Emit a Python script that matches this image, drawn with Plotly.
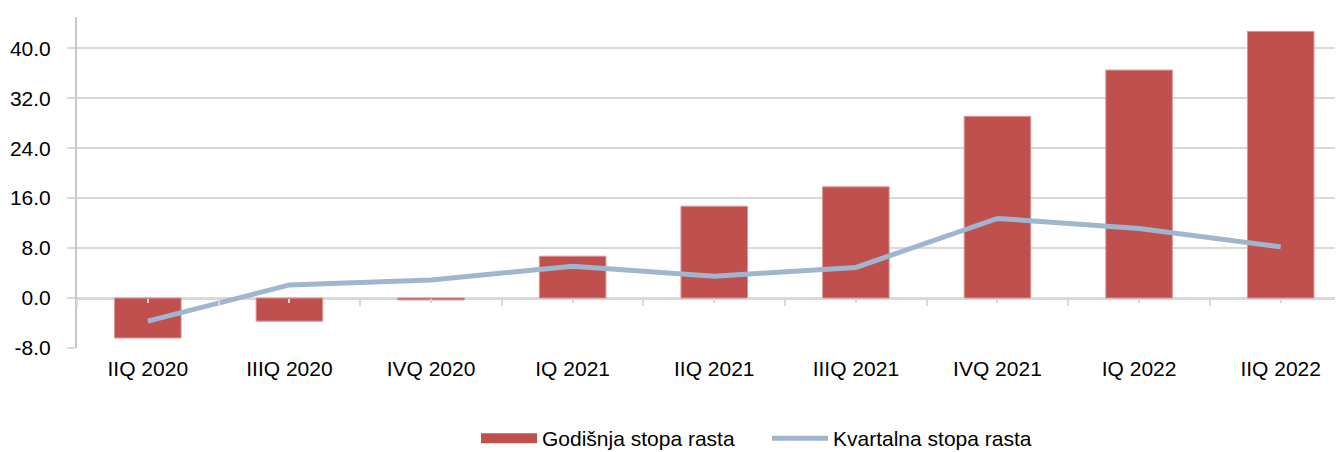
import plotly.graph_objects as go

categories = ["IIQ 2020", "IIIQ 2020", "IVQ 2020", "IQ 2021", "IIQ 2021",
              "IIIQ 2021", "IVQ 2021", "IQ 2022", "IIQ 2022"]
godisnja = [-6.4, -3.7, -0.3, 6.7, 14.7, 17.8, 29.1, 36.5, 42.7]
kvartalna = [-3.7, 2.1, 2.9, 5.1, 3.5, 4.9, 12.75, 11.15, 8.2]
y_ticks = [-8, 0, 8, 16, 24, 32, 40]

xpos = list(range(len(categories)))
boundary_ticks = [i - 0.5 for i in range(len(categories) + 1)]
y_min, y_max = -8, 45
x_range = [-0.5, len(categories) - 1 + 0.44]

FONT = "Liberation Sans, Arial, sans-serif"
GRID = "#D9D9D9"
RED = "#C0504D"
BLUE = "#9FB6CE"
W, H = 1343, 452

fig = go.Figure()
fig.add_trace(go.Bar(
    x=xpos, y=godisnja, name="Godišnja stopa rasta", showlegend=False,
    marker=dict(color=RED, line=dict(color="#D99694", width=1)),
    width=0.47,
))
fig.add_trace(go.Scatter(
    x=xpos, y=kvartalna, name="Kvartalna stopa rasta", mode="lines",
    line=dict(color=BLUE, width=5), showlegend=False,
))
# legend proxies
fig.add_trace(go.Scatter(x=[None], y=[None], mode="lines", name="Godišnja stopa rasta",
                         line=dict(color=RED, width=15)))
fig.add_trace(go.Scatter(x=[None], y=[None], mode="lines", name="Kvartalna stopa rasta",
                         line=dict(color=BLUE, width=5)))
# invisible helpers to carry the tick-mark axes at the zero line
fig.add_trace(go.Scatter(x=[x_range[0]], y=[0], xaxis="x2", mode="markers",
                         marker=dict(opacity=0), showlegend=False, hoverinfo="skip"))
fig.add_trace(go.Scatter(x=[x_range[0]], y=[0], xaxis="x3", mode="markers",
                         marker=dict(opacity=0), showlegend=False, hoverinfo="skip"))

zero_pos = (0 - y_min) / (y_max - y_min)

fig.update_layout(
    width=W, height=H,
    margin=dict(l=69, r=8, t=9, b=112, autoexpand=False),
    paper_bgcolor="white", plot_bgcolor="white",
    font=dict(family=FONT, size=21, color="black"),
    showlegend=True,
    legend=dict(orientation="h", xref="container", yref="container",
                x=468 / W, xanchor="left", y=(H - 410) / H, yanchor="top",
                font=dict(size=21, family=FONT), itemwidth=56, entrywidth=220,
                tracegroupgap=0, traceorder="normal", bgcolor="rgba(0,0,0,0)"),
    xaxis=dict(
        range=x_range, tickmode="array", tickvals=xpos, ticktext=categories,
        showgrid=False, zeroline=False, showline=False, ticks="",
        tickfont=dict(size=21, family=FONT), fixedrange=True,
        ticklabelstandoff=6, automargin=False,
    ),
    xaxis2=dict(
        range=x_range, overlaying="x", anchor="free", position=zero_pos,
        tickmode="array", tickvals=boundary_ticks, ticks="outside", ticklen=7,
        tickwidth=2, tickcolor=GRID, showticklabels=False, showgrid=False,
        zeroline=False, showline=False, automargin=False,
    ),
    xaxis3=dict(
        range=x_range, overlaying="x", anchor="free", position=zero_pos,
        tickmode="array", tickvals=xpos, ticks="outside", ticklen=4,
        tickwidth=2, tickcolor=GRID, showticklabels=False, showgrid=False,
        zeroline=False, showline=False, automargin=False,
    ),
    yaxis=dict(
        range=[y_min, y_max], tickmode="array", tickvals=y_ticks,
        ticktext=[f"{v:.1f}" for v in y_ticks],
        showgrid=True, gridcolor=GRID, gridwidth=1.5,
        zeroline=True, zerolinecolor=GRID, zerolinewidth=2.5,
        showline=True, linecolor="#C8C8C8", linewidth=2,
        ticks="outside", ticklen=8, tickcolor=GRID, tickwidth=1.5,
        tickfont=dict(size=21, family=FONT), ticklabelstandoff=12,
        fixedrange=True, automargin=False,
    ),
)

fig.write_html("out.html")
